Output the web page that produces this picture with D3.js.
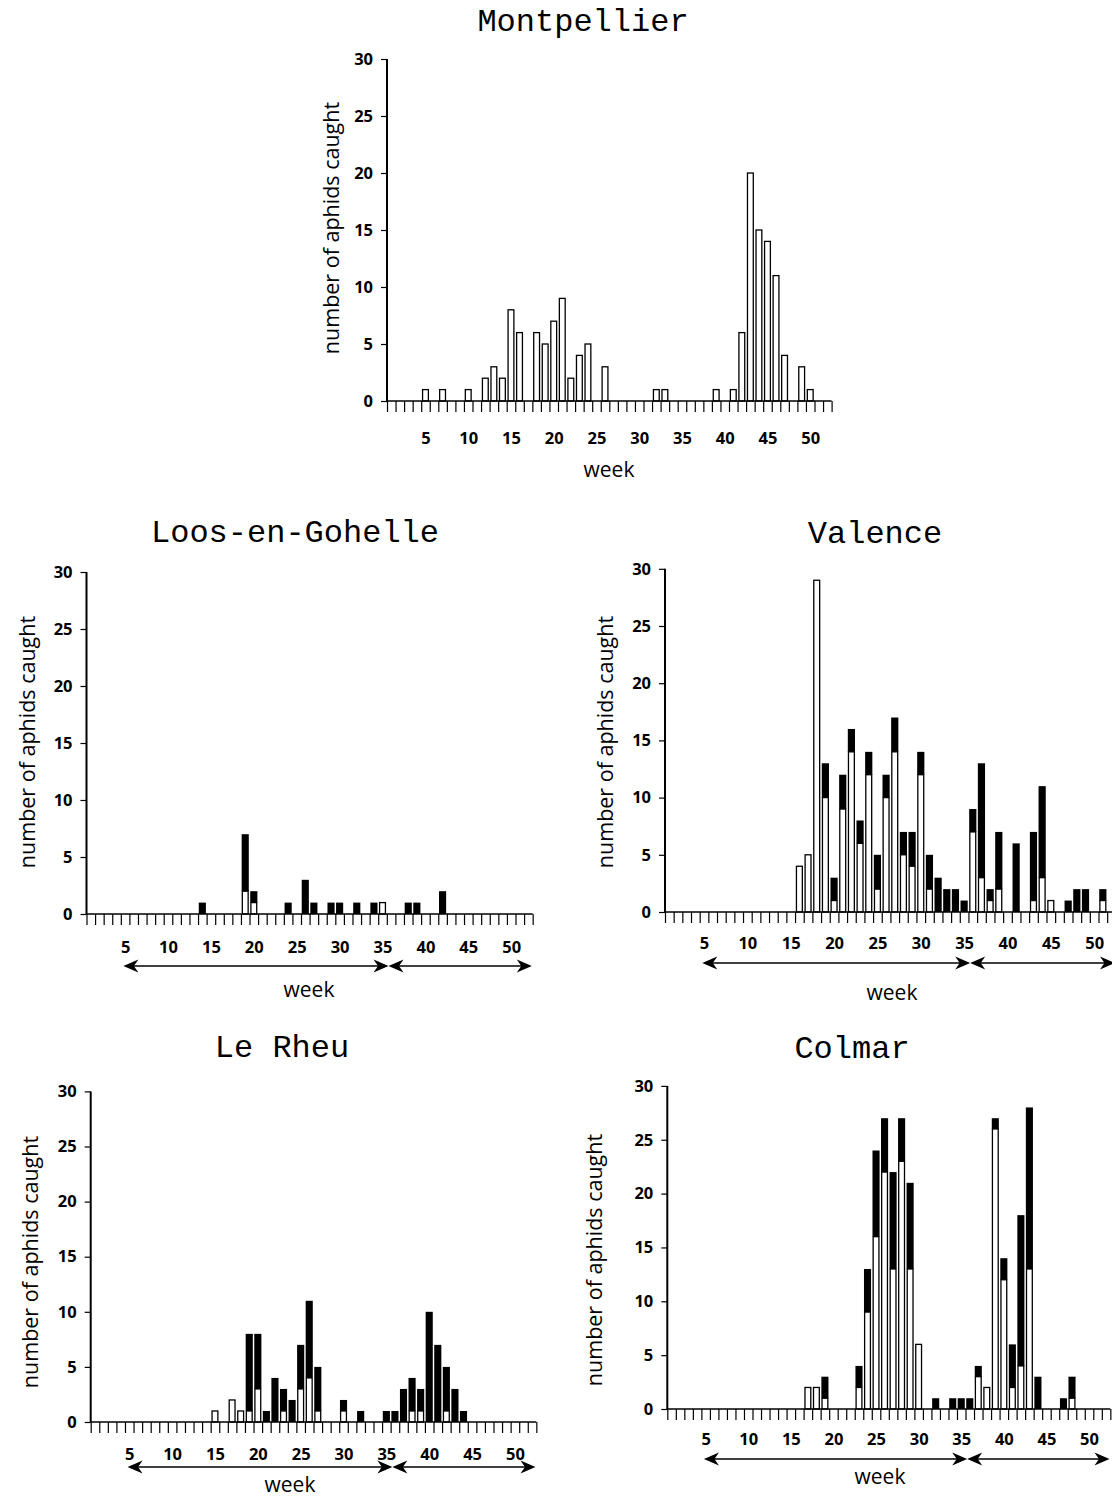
<!DOCTYPE html>
<html>
<head>
<meta charset="utf-8">
<script src="https://cdn.jsdelivr.net/npm/d3@7"></script>
<style>
  body { margin: 0; background: #fff; }
  svg { display: block; }
</style>
</head>
<body>
<svg id="chart"></svg>
<script>
// tick labels
const weekLabels = [5, 10, 15, 20, 25, 30, 35, 40, 45, 50];
const countTicks = [0, 5, 10, 15, 20, 25, 30];
// ends of the two double arrows, in weeks
const seasonBreaks = [4.8, 35.7, 52.4];

// counts per week: white part of bar, black part stacked on top
const montpellierWeeks = [5, 7, 10, 12, 13, 14, 15, 16, 18, 19, 20, 21, 22, 23, 24, 26, 32, 33, 39, 41, 42, 43, 44, 45, 46, 47, 49, 50];
const montpellierWhite = [1, 1, 1, 2, 3, 2, 8, 6, 6, 5, 7, 9, 2, 4, 5, 3, 1, 1, 1, 1, 6, 20, 15, 14, 11, 4, 3, 1];
const montpellierBlack = [0, 0, 0, 0, 0, 0, 0, 0, 0, 0, 0, 0, 0, 0, 0, 0, 0, 0, 0, 0, 0, 0, 0, 0, 0, 0, 0, 0];

const loosWeeks = [14, 19, 20, 24, 26, 27, 29, 30, 32, 34, 35, 38, 39, 42];
const loosWhite = [0, 2, 1, 0, 0, 0, 0, 0, 0, 0, 1, 0, 0, 0];
const loosBlack = [1, 5, 1, 1, 3, 1, 1, 1, 1, 1, 0, 1, 1, 2];

const valenceWeeks = [16, 17, 18, 19, 20, 21, 22, 23, 24, 25, 26, 27, 28, 29, 30, 31, 32, 33, 34, 35, 36, 37, 38, 39, 41, 43, 44, 45, 47, 48, 49, 51];
const valenceWhite = [4, 5, 29, 10, 1, 9, 14, 6, 12, 2, 10, 14, 5, 4, 12, 2, 0, 0, 0, 0, 7, 3, 1, 2, 0, 1, 3, 1, 0, 0, 0, 1];
const valenceBlack = [0, 0, 0, 3, 2, 3, 2, 2, 2, 3, 2, 3, 2, 3, 2, 3, 3, 2, 2, 1, 2, 10, 1, 5, 6, 6, 8, 0, 1, 2, 2, 1];

const rheuWeeks = [15, 17, 18, 19, 20, 21, 22, 23, 24, 25, 26, 27, 30, 32, 35, 36, 37, 38, 39, 40, 41, 42, 43, 44];
const rheuWhite = [1, 2, 1, 1, 3, 0, 0, 1, 0, 3, 4, 1, 1, 0, 0, 0, 0, 1, 1, 0, 0, 1, 0, 0];
const rheuBlack = [0, 0, 0, 7, 5, 1, 4, 2, 2, 4, 7, 4, 1, 1, 1, 1, 3, 3, 2, 10, 7, 4, 3, 1];

const colmarWeeks = [17, 18, 19, 23, 24, 25, 26, 27, 28, 29, 30, 32, 34, 35, 36, 37, 38, 39, 40, 41, 42, 43, 44, 47, 48];
const colmarWhite = [2, 2, 1, 2, 9, 16, 22, 13, 23, 13, 6, 0, 0, 0, 0, 3, 2, 26, 12, 2, 4, 13, 0, 0, 1];
const colmarBlack = [0, 0, 2, 2, 4, 8, 5, 9, 4, 8, 0, 1, 1, 1, 1, 1, 0, 1, 2, 4, 14, 15, 3, 1, 2];

const W = 1112, H = 1497;
const svg = d3.select('#chart').attr('width', W).attr('height', H);

const titleFont = '"Liberation Mono", "DejaVu Sans Mono", monospace';
const textFont = '"Open Sans", "Noto Sans", sans-serif';

// where each panel sits on the page
const panels = [
  { title: 'Montpellier', weeks: montpellierWeeks, white: montpellierWhite, black: montpellierBlack,
    left: 387, step: 8.55, zero: 401, unit: 11.4, titleX: 583, titleY: 31, ylabX: 331, ylabY: 228,
    tickY: 444, weekX: 609, weekY: 477, arrowY: null },
  { title: 'Loos-en-Gohelle', weeks: loosWeeks, white: loosWhite, black: loosBlack,
    left: 86.5, step: 8.58, zero: 914, unit: 11.4, titleX: 295, titleY: 542, ylabX: 27, ylabY: 742,
    tickY: 953, weekX: 309, weekY: 997, arrowY: 966 },
  { title: 'Valence', weeks: valenceWeeks, white: valenceWhite, black: valenceBlack,
    left: 665, step: 8.67, zero: 912, unit: 11.44, titleX: 875, titleY: 543, ylabX: 605, ylabY: 742,
    tickY: 949, weekX: 892, weekY: 1000, arrowY: 963 },
  { title: 'Le Rheu', weeks: rheuWeeks, white: rheuWhite, black: rheuBlack,
    left: 90.7, step: 8.57, zero: 1422, unit: 11.02, titleX: 282, titleY: 1057, ylabX: 30, ylabY: 1262,
    tickY: 1460, weekX: 290, weekY: 1492, arrowY: 1467 },
  { title: 'Colmar', weeks: colmarWeeks, white: colmarWhite, black: colmarBlack,
    left: 667.3, step: 8.52, zero: 1409, unit: 10.77, titleX: 852, titleY: 1058, ylabX: 594, ylabY: 1260,
    tickY: 1445, weekX: 880, weekY: 1484, arrowY: 1459 }
];

panels.forEach(drawPanel);

function drawPanel(p) {
  const g = svg.append('g');
  const right = p.left + 52 * p.step;
  const x = d3.scaleLinear().domain([0.5, 52.5]).range([p.left, right]);
  const y = d3.scaleLinear().domain([0, 30]).range([p.zero, p.zero - 30 * p.unit]);
  const bw = p.step * 0.68;

  const rows = p.weeks.map((w, i) => ({ week: w, white: p.white[i], black: p.black[i] }));

  // title
  g.append('text')
    .attr('x', p.titleX).attr('y', p.titleY)
    .attr('text-anchor', 'middle')
    .attr('font-family', titleFont).attr('font-size', '32px')
    .text(p.title);

  // white part
  g.selectAll('rect.white')
    .data(rows.filter(d => d.white > 0))
    .enter().append('rect')
    .attr('class', 'white')
    .attr('x', d => x(d.week) - bw / 2)
    .attr('width', bw)
    .attr('y', d => y(d.white))
    .attr('height', d => y(0) - y(d.white))
    .attr('fill', '#fff')
    .attr('stroke', '#000')
    .attr('stroke-width', 1.3);

  // black part on top
  g.selectAll('rect.black')
    .data(rows.filter(d => d.black > 0))
    .enter().append('rect')
    .attr('class', 'black')
    .attr('x', d => x(d.week) - bw / 2 - 0.65)
    .attr('width', bw + 1.3)
    .attr('y', d => y(d.white + d.black))
    .attr('height', d => y(d.white) - y(d.white + d.black))
    .attr('fill', '#000');

  // week ticks at the band edges
  const xTicks = g.append('g')
    .attr('transform', `translate(0,${p.zero})`)
    .call(d3.axisBottom(x).tickValues(d3.range(0.5, 53, 1)).tickSize(11).tickFormat(''));
  xTicks.select('.domain').remove();
  xTicks.selectAll('line').attr('stroke', '#000').attr('stroke-width', 1.2);

  g.append('line')
    .attr('x1', p.left).attr('x2', right)
    .attr('y1', p.zero).attr('y2', p.zero)
    .attr('stroke', '#000').attr('stroke-width', 1.6);

  // week labels
  const xLab = g.append('g')
    .attr('transform', `translate(0,${p.tickY})`)
    .call(d3.axisBottom(x).tickValues(weekLabels).tickSize(0).tickPadding(0));
  xLab.select('.domain').remove();
  xLab.selectAll('text')
    .attr('dy', 0)
    .attr('font-family', textFont).attr('font-size', '16.5px').attr('font-weight', 'bold')
    .attr('fill', '#000');

  // count axis
  const yAx = g.append('g')
    .attr('transform', `translate(${p.left},0)`)
    .call(d3.axisLeft(y).tickValues(countTicks).tickSize(6).tickPadding(8));
  yAx.select('.domain').attr('stroke', '#000').attr('stroke-width', 2)
    .attr('d', `M0,${y(30)}V${y(0)}`);
  yAx.selectAll('line').attr('stroke', '#000').attr('stroke-width', 1.2);
  yAx.selectAll('text')
    .attr('font-family', textFont).attr('font-size', '16.5px').attr('font-weight', 'bold')
    .attr('fill', '#000');

  // axis titles
  g.append('text')
    .attr('transform', `translate(${p.ylabX},${p.ylabY}) rotate(-90)`)
    .attr('text-anchor', 'middle').attr('dy', '0.35em')
    .attr('font-family', textFont).attr('font-size', '21.5px')
    .text('number of aphids caught');

  g.append('text')
    .attr('x', p.weekX).attr('y', p.weekY)
    .attr('text-anchor', 'middle')
    .attr('font-family', textFont).attr('font-size', '21px')
    .text('week');

  // double arrows for the two periods
  if (p.arrowY !== null) {
    const spans = [[seasonBreaks[0], seasonBreaks[1]], [seasonBreaks[1], seasonBreaks[2]]];
    const hl = 15, hh = 6.5;
    spans.forEach(([a, b]) => {
      const x0 = x(a), x1 = x(b), yy = p.arrowY;
      g.append('line')
        .attr('x1', x0 + 5).attr('x2', x1 - 5)
        .attr('y1', yy).attr('y2', yy)
        .attr('stroke', '#000').attr('stroke-width', 1.6);
      g.append('path')
        .attr('d', `M${x0},${yy}L${x0 + hl},${yy - hh}L${x0 + hl * 0.7},${yy}L${x0 + hl},${yy + hh}Z`)
        .attr('fill', '#000');
      g.append('path')
        .attr('d', `M${x1},${yy}L${x1 - hl},${yy - hh}L${x1 - hl * 0.7},${yy}L${x1 - hl},${yy + hh}Z`)
        .attr('fill', '#000');
    });
  }
}
</script>
</body>
</html>
